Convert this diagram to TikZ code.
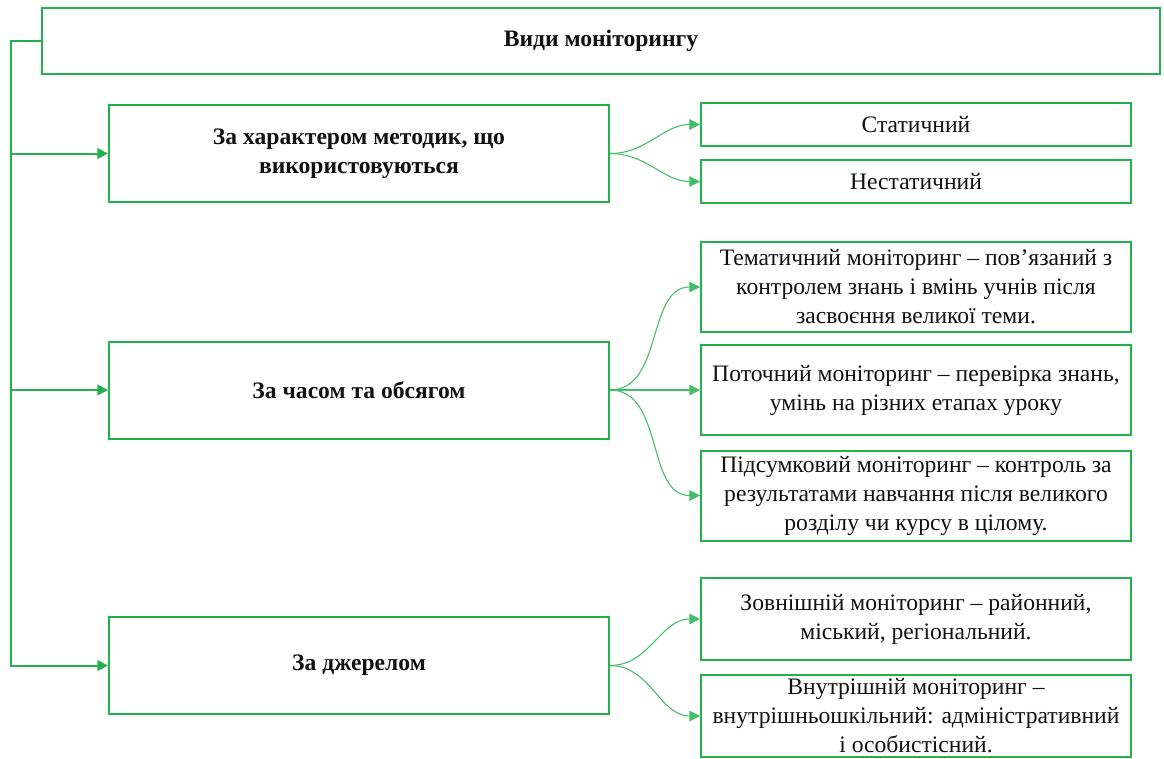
\documentclass[tikz,border=0pt]{standalone}
\usepackage{fontspec}
\setmainfont{Liberation Serif}
\usepackage{xcolor}
\definecolor{mngreen}{HTML}{22B14C}
\definecolor{mnink}{HTML}{111111}
\usepackage{tikz}
\usetikzlibrary{arrows.meta,positioning}
\tikzset{
  mnbox/.style   ={rectangle, draw=mngreen, fill=white, line width=1.5pt,
                   align=center, text=mnink, inner sep=2pt,
                   font=\fontsize{17.7}{21.75}\selectfont},
  mnroot/.style  ={mnbox, minimum width=838.5pt, minimum height=49.5pt,
                   font=\fontsize{17.7}{21.75}\selectfont\bfseries},
  mncat/.style   ={mnbox, minimum width=375pt, minimum height=72.75pt,
                   font=\fontsize{17.7}{21.75}\selectfont\bfseries},
  mnleaf/.style  ={mnbox, minimum width=322.5pt},
  mnarrow/.style ={-{Triangle[length=8pt,width=8pt]}, line width=1.5pt, draw=mngreen},
  mncurve/.style ={-{Triangle[length=8pt,width=8pt]}, line width=0.8pt, draw=mngreen!85},
}
\begin{document}
\begin{tikzpicture}[x=0.75pt,y=-0.75pt]
  \useasboundingbox (0,0) rectangle (1164,758);
  \node[mnroot] (top) at (601,41) {Види моніторингу};
  \node[mncat] (c1) at (359,153.5) {За характером методик, що\\використовуються};
  \node[mncat] (c2) at (359,390) {За часом та обсягом};
  \node[mncat] (c3) at (359,665.5) {За джерелом};
  \foreach \n in {c1,c2,c3}{\draw[mnarrow] (top.west) -- ++(-30,0) |- (\n.west);}
  % leaves of the first group
  \node[mnleaf, minimum height=32.25pt] (r1) at (916,124.5) {Статичний};
  \node[mnleaf, minimum height=32.25pt] (r2) at (916,181.5) {Нестатичний};
  % leaves of the second group
  \node[mnleaf, minimum height=67.5pt] (r3) at (916,287) {Тематичний моніторинг – пов’язаний з\\контролем знань і вмінь учнів після\\засвоєння великої теми.};
  \node[mnleaf, minimum height=67.5pt] (r4) at (916,390) {Поточний моніторинг – перевірка знань,\\умінь на різних етапах уроку};
  \node[mnleaf, minimum height=67.5pt] (r5) at (916,495.5) {Підсумковий моніторинг – контроль за\\результатами навчання після великого\\розділу чи курсу в цілому.};
  % leaves of the third group
  \node[mnleaf, minimum height=61.5pt] (r6) at (916,619) {Зовнішній моніторинг – районний,\\міський, регіональний.};
  \node[mnleaf, minimum height=61.5pt] (r7) at (916,716) {Внутрішній моніторинг –\\внутрішньошкільний: адміністративний\\і особистісний.};
  \foreach \n in {r1,r2}{\draw[mncurve] (c1.east) to[out=0,in=180] (\n.west);}
  \foreach \n in {r3,r4,r5}{\draw[mncurve] (c2.east) to[out=0,in=180] (\n.west);}
  \foreach \n in {r6,r7}{\draw[mncurve] (c3.east) to[out=0,in=180] (\n.west);}
\end{tikzpicture}
\end{document}
